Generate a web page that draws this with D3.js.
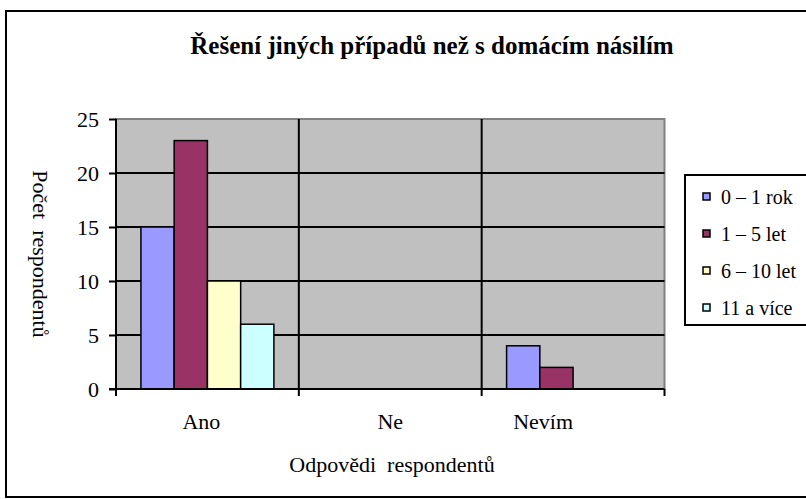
<!DOCTYPE html>
<html>
<head>
<meta charset="utf-8">
<script src="https://cdn.jsdelivr.net/npm/d3@7"></script>
</head>
<body style="margin:0">
<div id="chart"></div>
<script>
// data
var categories = ["Ano", "Ne", "Nevím"];
var series = ["0 – 1 rok", "1 – 5 let", "6 – 10 let", "11 a více"];
var valuesAno = [15, 23, 10, 6];
var valuesNe = [0, 0, 0, 0];
var valuesNevim = [4, 2, 0, 0];
var yTicks = [0, 5, 10, 15, 20, 25];

var title = "Řešení jiných případů než s domácím násilím";
var xTitle = "Odpovědi  respondentů";
var yTitle = "Počet  respondentů";

var colors = ["#9999FF", "#993366", "#FFFFCC", "#CCFFFF"];
// excel left the category labels a bit off centre
var labelNudge = { "Ano": -6, "Ne": 0, "Nevím": -30 };

var rows = [valuesAno, valuesNe, valuesNevim];

const W = 806, H = 499;
const plot = { left: 116, right: 664.5, top: 119, bottom: 389 };

const svg = d3.select("#chart").append("svg")
  .attr("width", W)
  .attr("height", H);

// outer chart frame (cropped on the right)
svg.append("rect")
  .attr("x", 6).attr("y", 11)
  .attr("width", 900).attr("height", 486)
  .attr("fill", "#fff")
  .attr("stroke", "#000")
  .attr("stroke-width", 2);

svg.append("text")
  .attr("x", 432)
  .attr("y", 54)
  .attr("text-anchor", "middle")
  .attr("font-family", "Liberation Serif")
  .attr("font-weight", "bold")
  .attr("font-size", 25)
  .text(title);

const x = d3.scaleBand()
  .domain(categories)
  .range([plot.left, plot.right]);
const xInner = d3.scaleBand()
  .domain(series)
  .range([0, x.bandwidth()])
  .paddingOuter(0.75);
const y = d3.scaleLinear()
  .domain([0, 25])
  .range([plot.bottom, plot.top]);

// plot area
svg.append("rect")
  .attr("x", plot.left).attr("y", plot.top)
  .attr("width", plot.right - plot.left)
  .attr("height", plot.bottom - plot.top)
  .attr("fill", "#C0C0C0")
  .attr("stroke", "#808080")
  .attr("stroke-width", 2);

// horizontal grid
svg.append("g")
  .selectAll("line")
  .data(yTicks.filter(function(d) { return d > 0 && d < 25; }))
  .enter().append("line")
  .attr("x1", plot.left).attr("x2", plot.right)
  .attr("y1", function(d) { return y(d); })
  .attr("y2", function(d) { return y(d); })
  .attr("stroke", "#000")
  .attr("stroke-width", 2);

// vertical category dividers
svg.append("g")
  .selectAll("line")
  .data(categories.slice(1))
  .enter().append("line")
  .attr("x1", function(d) { return x(d); })
  .attr("x2", function(d) { return x(d); })
  .attr("y1", plot.top).attr("y2", plot.bottom)
  .attr("stroke", "#000")
  .attr("stroke-width", 2);

// bars
var barData = [];
categories.forEach(function(c, i) {
  series.forEach(function(s, j) {
    barData.push({ cat: c, ser: s, idx: j, value: rows[i][j] });
  });
});

svg.append("g")
  .selectAll("rect")
  .data(barData.filter(function(d) { return d.value > 0; }))
  .enter().append("rect")
  .attr("x", function(d) { return x(d.cat) + xInner(d.ser); })
  .attr("y", function(d) { return y(d.value); })
  .attr("width", xInner.bandwidth())
  .attr("height", function(d) { return y(0) - y(d.value); })
  .attr("fill", function(d) { return colors[d.idx]; })
  .attr("stroke", "#000")
  .attr("stroke-width", 1.5);

// y axis
const yAxis = d3.axisLeft(y)
  .tickValues(yTicks)
  .tickSize(7)
  .tickPadding(10);
const yAxisG = svg.append("g")
  .attr("transform", "translate(" + plot.left + ",0)")
  .call(yAxis);
yAxisG.select(".domain").attr("stroke-width", 2).attr("d", "M0," + (plot.top) + "V" + (plot.bottom + 1));
yAxisG.selectAll(".tick line").attr("stroke-width", 2);
yAxisG.selectAll("text")
  .attr("fill", "#000")
  .attr("font-family", "Liberation Serif")
  .attr("font-size", 22);

// x axis
const xAxisG = svg.append("g")
  .attr("transform", "translate(0," + plot.bottom + ")");
xAxisG.append("line")
  .attr("x1", plot.left - 7).attr("x2", plot.right)
  .attr("stroke", "#000").attr("stroke-width", 2);
xAxisG.selectAll(".xtick")
  .data(categories.map(function(c) { return x(c); }).concat([plot.right]))
  .enter().append("line")
  .attr("x1", function(d) { return d; })
  .attr("x2", function(d) { return d; })
  .attr("y1", 0).attr("y2", 7)
  .attr("stroke", "#000").attr("stroke-width", 2);
xAxisG.selectAll(".xlabel")
  .data(categories)
  .enter().append("text")
  .attr("x", function(d) { return x(d) + x.bandwidth() / 2 + labelNudge[d]; })
  .attr("y", 40)
  .attr("text-anchor", "middle")
  .attr("font-family", "Liberation Serif")
  .attr("font-size", 22)
  .text(function(d) { return d; });

// axis titles
svg.append("text")
  .attr("x", 392)
  .attr("y", 472)
  .attr("text-anchor", "middle")
  .attr("font-family", "Liberation Serif")
  .attr("font-size", 22)
  .attr("xml:space", "preserve")
  .text(xTitle);

svg.append("text")
  .attr("transform", "translate(33,254) rotate(90)")
  .attr("text-anchor", "middle")
  .attr("font-family", "Liberation Serif")
  .attr("font-size", 22)
  .attr("xml:space", "preserve")
  .text(yTitle);

// legend
const legend = svg.append("g")
  .attr("transform", "translate(685,175)");
legend.append("rect")
  .attr("width", 160).attr("height", 150)
  .attr("fill", "#fff")
  .attr("stroke", "#000").attr("stroke-width", 2);
const item = legend.selectAll(".item")
  .data(series)
  .enter().append("g")
  .attr("transform", function(d, i) { return "translate(18," + (22 + i * 37) + ")"; });
item.append("rect")
  .attr("width", 7).attr("height", 7)
  .attr("y", -4)
  .attr("fill", function(d, i) { return colors[i]; })
  .attr("stroke", "#000").attr("stroke-width", 1.5);
item.append("text")
  .attr("x", 18)
  .attr("y", 7)
  .attr("font-family", "Liberation Serif")
  .attr("font-size", 20)
  .text(function(d) { return d; });
</script>
</body>
</html>
